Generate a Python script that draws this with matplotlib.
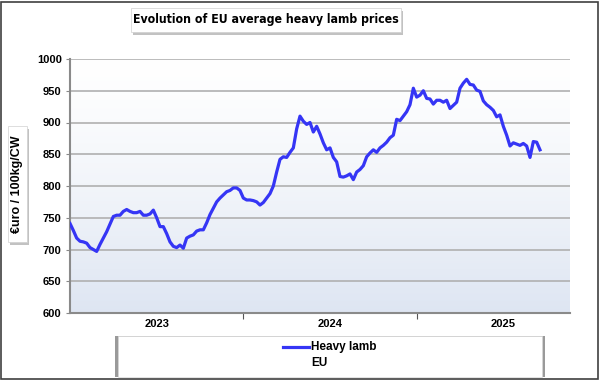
import numpy as np
import matplotlib.pyplot as plt
from matplotlib.patches import Rectangle

# weekly EU average heavy lamb price, EUR/100kg carcass weight, from week 1 2023
weeks = np.arange(142)
prices = [741, 730, 718, 713, 712, 710, 703, 700, 697, 708,
          718, 728, 740, 752, 754, 754, 760, 763, 760, 758,
          758, 760, 754, 754, 756, 762, 750, 736, 736, 725,
          712, 705, 703, 707, 702, 718, 721, 723, 729, 731,
          731, 742, 755, 765, 775, 781, 786, 791, 793, 797,
          797, 793, 781, 778, 778, 777, 775, 770, 774, 781,
          788, 800, 822, 842, 846, 845, 853, 860, 890, 910,
          902, 897, 900, 885, 894, 882, 868, 857, 860, 845,
          838, 815, 814, 816, 819, 810, 822, 826, 832, 846,
          852, 857, 853, 860, 864, 869, 876, 880, 905, 903,
          910, 917, 928, 954, 940, 943, 950, 938, 937, 929,
          935, 935, 932, 935, 922, 927, 932, 954, 962, 968,
          960, 959, 951, 949, 934, 928, 924, 919, 909, 912,
          894, 880, 863, 868, 866, 864, 867, 863, 845, 870,
          869, 857]
years = ['2023', '2024', '2025']
year_start = [0, 52, 104]
yticks = np.arange(600, 1001, 50)

plt.rcParams['font.family'] = ['Liberation Sans', 'DejaVu Sans']
W, H = 600, 380

fig = plt.figure(figsize=(6, 3.8), dpi=100)
ax = fig.add_axes([70 / W, 1 - 313 / H, 500 / W, 254 / H])

xmax = 150
# background gradient, white at top to pale blue at bottom
grad = np.linspace(0, 1, 256).reshape(-1, 1, 1) ** 1.3
top = np.array([1.0, 1.0, 1.0])
bot = np.array([0.87, 0.90, 0.95])
img = top + (bot - top) * grad * np.ones((1, 1, 3))
ax.imshow(img, extent=[0, xmax, 600, 1000], origin='upper', aspect='auto', zorder=0)

ax.plot(weeks, prices, color='#3535f5', lw=2.3, zorder=3, solid_joinstyle='round')

ax.set_xlim(0, xmax)
ax.set_ylim(600, 1000)
ax.set_yticks(yticks)
ax.set_yticklabels([str(v) for v in yticks], fontsize=8, fontweight='bold')
ax.yaxis.grid(True, color='#b0b0b0', lw=1.2)
ax.set_axisbelow(True)
ax.set_xticks(year_start[1:])
ax.set_xticklabels([])
ax.tick_params(axis='x', length=4, color='#555555', direction='out')
ax.tick_params(axis='y', length=3, color='#888888', direction='out', pad=3)
for i, y in enumerate(years):
    ax.text(year_start[i] + 26, 590, y, ha='center', va='top', fontsize=8,
            fontweight='bold')
for s in ['top', 'right']:
    ax.spines[s].set_visible(False)
for s in ['left', 'bottom']:
    ax.spines[s].set_color('#8a8a8a')
    ax.spines[s].set_linewidth(1.5)


def shadow_box(x0, y0, w, h):
    # box in pixel coords (from top-left), with soft grey shadow
    fig.patches.append(Rectangle(((x0 + 2) / W, 1 - (y0 + h + 3) / H), w / W, h / H,
                                 transform=fig.transFigure, fc='#9a9a9a', ec='none', alpha=0.6))
    fig.patches.append(Rectangle((x0 / W, 1 - (y0 + h) / H), w / W, h / H,
                                 transform=fig.transFigure, fc='white', ec='#d0d0d0', lw=0.5))


shadow_box(131, 8, 270, 24)
fig.text(266 / W, 1 - 20 / H, 'Evolution of EU average heavy lamb prices',
         ha='center', va='center', fontsize=8.8, fontweight='bold',
         family='DejaVu Sans', fontstretch='condensed')

shadow_box(8, 126, 19, 116)
fig.text(17.5 / W, 1 - 184 / H, '€uro / 100kg/CW', rotation=90,
         ha='center', va='center', fontsize=9, fontweight='bold')

# legend box
fig.patches.append(Rectangle((115 / W, 1 - 377 / H), 430 / W, 41 / H,
                             transform=fig.transFigure, fc='#9a9a9a', ec='none'))
fig.patches.append(Rectangle((118 / W, 1 - 377 / H), 424 / W, 41 / H,
                             transform=fig.transFigure, fc='white', ec='#d8d8d8', lw=0.5))
fig.add_artist(plt.Line2D([283 / W, 309 / W], [1 - 347 / H, 1 - 347 / H],
                          color='#3535f5', lw=2.3))
fig.text(311 / W, 1 - 347 / H, 'Heavy lamb', ha='left', va='center', fontsize=8.5,
         fontweight='bold')
fig.text(311 / W, 1 - 363 / H, 'EU', ha='left', va='center', fontsize=8.5,
         fontweight='bold')

# outer frame
fig.patches.append(Rectangle((1 / W, 1 / H), 597 / W, 377 / H, transform=fig.transFigure,
                             fc='none', ec='#404040', lw=1.2))

fig.savefig('out.png', dpi=100)
